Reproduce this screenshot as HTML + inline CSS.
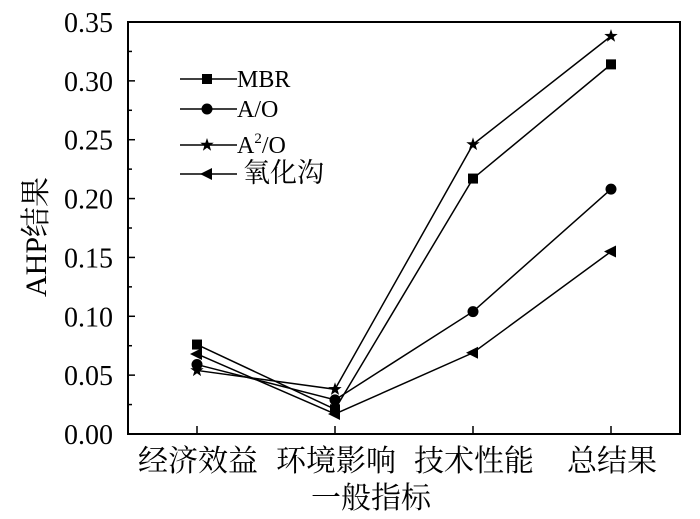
<!DOCTYPE html>
<html><head><meta charset="utf-8"><style>body{margin:0;background:#fff}svg{display:block}</style></head>
<body>
<svg width="700" height="519" font-family="'Liberation Serif','Noto Serif CJK SC',serif">
<g id="g"></g>
</svg>
<script>
const categories=["经济效益","环境影响","技术性能","总结果"];
const seriesNames=["MBR","A/O","A²/O","氧化沟"];
const mbr=[0.076,0.021,0.217,0.314];
const ao=[0.059,0.029,0.104,0.208];
const a2o=[0.054,0.038,0.246,0.338];
const ox=[0.068,0.017,0.069,0.155];
const yTicks=["0.00","0.05","0.10","0.15","0.20","0.25","0.30","0.35"];
const L=128,R=680,T=22,B=434;
const xs=i=>L+(i+0.5)*(R-L)/4;
const ys=v=>B-v/0.35*(B-T);
const NS="http://www.w3.org/2000/svg";
const g=document.getElementById('g');
function mk(t,a,p){const e=document.createElementNS(NS,t);for(const k in a)e.setAttribute(k,a[k]);(p||g).appendChild(e);return e;}
let e=mk('rect',{x:L,y:T,width:R-L,height:B-T,fill:'none',stroke:'#000','stroke-width':2});

for(let i=0;i<=14;i++){const v=i*0.025,y=ys(v);mk('line',{x1:L,x2:L+(i%2?4:7),y1:y,y2:y,stroke:'#000','stroke-width':1.5});}
yTicks.forEach(t=>{const el=mk('text',{x:113,y:ys(+t)+10,'text-anchor':'end','font-size':28});el.textContent=t;
});
categories.forEach((c,i)=>{mk('line',{x1:xs(i),x2:xs(i),y1:B,y2:B-8,stroke:'#000','stroke-width':1.5});
const el=mk('text',{x:xs(i)+1,y:471,'text-anchor':'middle','font-size':30});el.textContent=c;
});
e=mk('text',{x:371,y:508,'text-anchor':'middle','font-size':30});e.textContent='一般指标';

e=mk('text',{x:0,y:0,'text-anchor':'middle','font-size':30,transform:'translate(46,237) rotate(-90)'});e.textContent='AHP结果';

function marker(type,x,y,p){
 if(type==0)return mk('rect',{x:x-5,y:y-5,width:10,height:10,fill:'#000'},p);
 if(type==1)return mk('circle',{cx:x,cy:y,r:5.5,fill:'#000'},p);
 if(type==2){let pts=[];for(let k=0;k<10;k++){const r=k%2?2.8:7,a=-Math.PI/2+k*Math.PI/5;pts.push((x+r*Math.cos(a)).toFixed(1)+','+(y+r*Math.sin(a)).toFixed(1));}return mk('polygon',{points:pts.join(' '),fill:'#000'},p);}
 return mk('polygon',{points:`${x-7},${y} ${x+5},${y-6} ${x+5},${y+6}`,fill:'#000'},p);
}
const data=[mbr,ao,a2o,ox];
data.forEach((d,s)=>{const sg=mk('g',{});

mk('polyline',{points:d.map((v,i)=>xs(i)+','+ys(v)).join(' '),fill:'none',stroke:'#000','stroke-width':1.5},sg);
d.forEach((v,i)=>{const m=marker(s,xs(i),ys(v),sg);});});
const lg=mk('g',{});
const ly=[79,109,145,174];
seriesNames.forEach((n,s)=>{const eg=mk('g',{},lg);
mk('line',{x1:180,x2:237,y1:ly[s],y2:ly[s],stroke:'#000','stroke-width':1.5},eg);marker(s,207,ly[s],eg);
const t=mk('text',{x:s==3?243:237,y:ly[s]+8,'font-size':s==3?27:24},eg);
if(s==2){t.innerHTML='A<tspan dy="-10" font-size="15">2</tspan><tspan dy="10">/O</tspan>';}else t.textContent=n;});
</script>
</body></html>
